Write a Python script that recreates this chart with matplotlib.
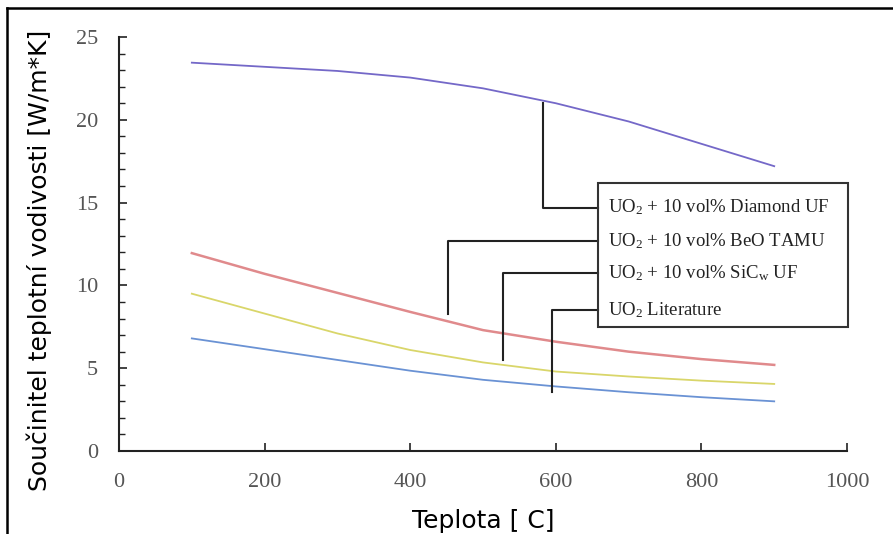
import numpy as np
import matplotlib.pyplot as plt
from matplotlib.lines import Line2D
from matplotlib.patches import Rectangle

# temperature [C]
teplota = [100, 200, 300, 400, 500, 600, 700, 800, 900]

# thermal conductivity [W/m*K]
diamond = [23.45, 23.2, 22.95, 22.55, 21.9, 21.0, 19.9, 18.55, 17.2]
beo = [11.95, 10.7, 9.55, 8.4, 7.3, 6.6, 6.0, 5.55, 5.2]
sic = [9.5, 8.3, 7.1, 6.1, 5.35, 4.8, 4.5, 4.25, 4.05]
literature = [6.8, 6.15, 5.5, 4.85, 4.3, 3.9, 3.55, 3.25, 3.0]

labels = [r'UO$_\mathregular{2}$ + 10 vol% Diamond UF',
          r'UO$_\mathregular{2}$ + 10 vol% BeO TAMU',
          r'UO$_\mathregular{2}$ + 10 vol% SiC$_\mathregular{w}$ UF',
          r'UO$_\mathregular{2}$ Literature']

serif = ['Liberation Serif', 'DejaVu Serif']
sans = ['DejaVu Sans']


def main():
    fig = plt.figure(figsize=(8.93, 5.34), dpi=100)
    ax = fig.add_axes([0.1333, 0.1554, 0.8152, 0.7753])

    ax.plot(teplota, diamond, color='#7468c8', lw=1.3)
    ax.plot(teplota, beo, color='#e08a8c', lw=1.8)
    ax.plot(teplota, sic, color='#d9d66a', lw=1.3)
    ax.plot(teplota, literature, color='#6a92d4', lw=1.3)

    ax.set_xlim(0, 1000)
    ax.set_ylim(0, 25)
    ax.set_xticks(range(0, 1001, 200))
    ax.set_yticks(range(0, 26, 5))
    ax.set_yticks(range(0, 26, 1), minor=True)
    for s in ['top', 'right']:
        ax.spines[s].set_visible(False)
    for s in ['left', 'bottom']:
        ax.spines[s].set_linewidth(1.5)
        ax.spines[s].set_color('#222222')
    ax.tick_params(axis='both', which='major', direction='in', length=6,
                   width=1.2, color='#222222', labelcolor='#555555')
    ax.tick_params(axis='y', which='minor', direction='in', length=4,
                   width=1.0, color='#222222')
    ax.tick_params(axis='y', pad=15)
    ax.tick_params(axis='x', pad=16)
    for lab in ax.get_xticklabels() + ax.get_yticklabels():
        lab.set_family(serif)
        lab.set_fontsize(16)

    ax.set_xlabel('Teplota [ C]', family=sans, fontsize=18, labelpad=12)
    ax.set_ylabel('Součinitel teplotní vodivosti [W/m*K]', family=sans,
                  fontsize=18)
    ax.yaxis.set_label_coords(-0.092, 0.46)

    # legend box with connector lines
    ax.add_patch(Rectangle((658, 7.5), 343, 8.7, fill=False, lw=1.5,
                           edgecolor='#333333', clip_on=False, zorder=3))
    leaders = [(582, 14.7, 21.0), (452, 12.7, 8.3),
               (527.5, 10.75, 5.5), (595, 8.5, 3.56)]
    for (lx, ly, ey), lab in zip(leaders, labels):
        ax.plot([658, lx, lx], [ly, ly, ey], color='#222222', lw=1.5,
                clip_on=False)
        ax.text(672, ly, lab, family=serif, fontsize=13.5, va='center',
                ha='left', color='#222222')

    # outer frame lines (top and left)
    fig.add_artist(Line2D([0.0078, 1.0], [0.985, 0.985], color='black',
                          lw=1.8, transform=fig.transFigure))
    fig.add_artist(Line2D([0.0078, 0.0078], [0.0, 0.985], color='black',
                          lw=1.8, transform=fig.transFigure))

    fig.savefig('out.png', dpi=100)


if __name__ == '__main__':
    plt.rcParams['mathtext.fontset'] = 'custom'
    plt.rcParams['mathtext.rm'] = 'Liberation Serif'
    plt.rcParams['mathtext.it'] = 'Liberation Serif:italic'
    main()
